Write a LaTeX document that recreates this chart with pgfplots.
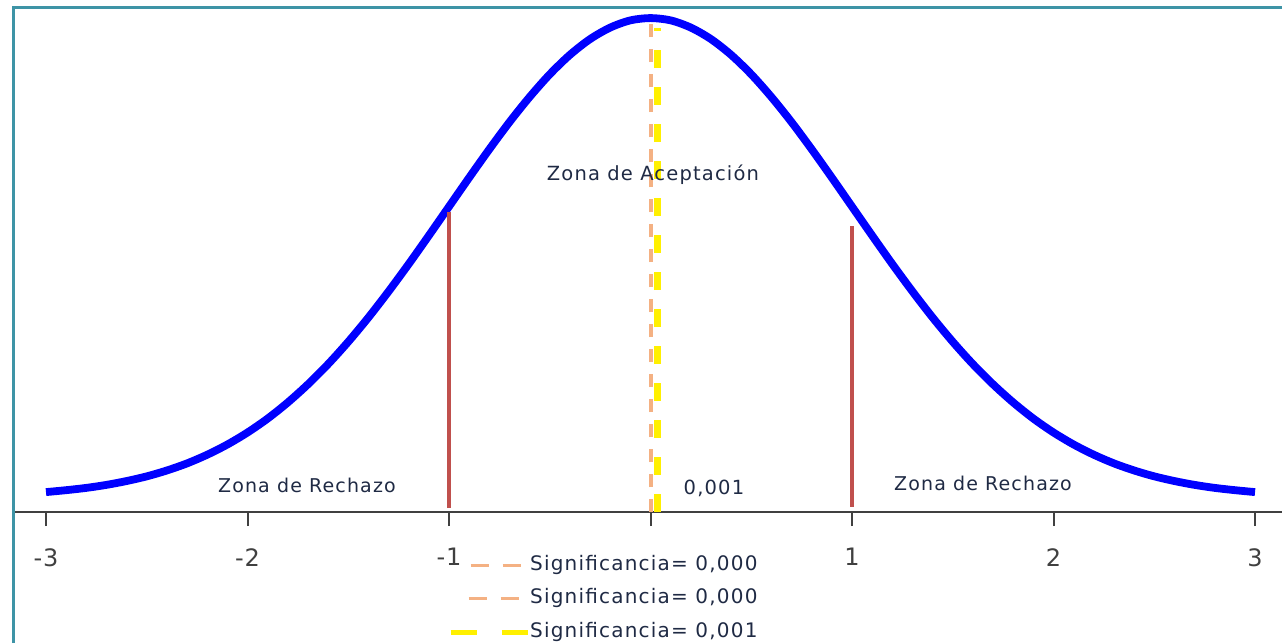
\documentclass[border=0pt]{standalone}
\usepackage{fontspec}
\setmainfont{DejaVu Sans}
\newfontfamily\labfont[LetterSpace=6]{DejaVu Sans}
\newfontfamily\tickfont[LetterSpace=4]{DejaVu Sans}
\usepackage{pgfplots}
\pgfplotsset{compat=1.18}
\definecolor{frameteal}{HTML}{3E94A6}
\definecolor{axisgray}{HTML}{404040}
\definecolor{peach}{HTML}{F4B183}
\definecolor{yell}{HTML}{FFF000}
\definecolor{redline}{HTML}{C0504D}
\definecolor{textdark}{HTML}{1F2A44}
\begin{document}
\begin{tikzpicture}
\begin{axis}[
  scale only axis, width=1269pt, height=635pt,
  xmin=-3.1638, xmax=3.134, ymin=-0.1090, ymax=0.4195,
  axis y line=none, axis x line*=middle,
  hide obscured x ticks=false,
  x axis line style={draw=axisgray, line width=2.4pt},
  xtick={-3,-2,-1,0,1,2,3},
  xticklabel={\mbox{\tickfont\fontsize{20}{20}\selectfont\pgfmathparse{int(round(\tick))}\ifnum\pgfmathresult=0 \else\pgfmathresult\fi}},
  xtick align=outside, major tick length=14pt,
  xtick style={draw=axisgray, line width=2pt, /pgfplots/major tick length=14pt},
  xticklabel style={font=\tickfont\fontsize{20}{20}\selectfont, text=axisgray, scale=1.2, yshift=-15pt},
  ytick=\empty,
  clip=false,
  legend style={draw=none, fill=none, at={(axis cs:-1.02,-0.034)}, anchor=north west,
    font=\labfont\fontsize{20}{20}\selectfont, text=textdark,
    nodes={inner sep=0pt, text height=15pt, text depth=5pt, anchor=west},
    /tikz/every even column/.append style={column sep=4pt},
    row sep=13.5pt},
  legend cell align=left,
]
% legend entries (the vertical lines at x = 0)
\addplot[peach, line width=4pt, dash pattern=on 13pt off 12pt,
  legend image code/.code={\path[draw=none,fill=none] (0pt,-5pt) rectangle (77pt,5pt);
    \draw[peach, line width=3pt, dash pattern=on 18pt off 14pt] (20pt,0pt) -- (72pt,0pt);}]
  coordinates {(0,0) (0,0.413)};
\addlegendentry{Significancia= 0,000}
\addplot[peach, line width=4pt, dash pattern=on 13pt off 12pt,
  legend image code/.code={\path[draw=none,fill=none] (0pt,-5pt) rectangle (77pt,5pt);
    \draw[peach, line width=3pt, dash pattern=on 18pt off 14pt] (18pt,0pt) -- (70pt,0pt);}]
  coordinates {(0,0) (0,0.413)};
\addlegendentry{Significancia= 0,000}
\addplot[yell, line width=7pt, dash pattern=on 18pt off 19pt,
  legend image code/.code={\path[draw=none,fill=none] (0pt,-5pt) rectangle (77pt,5pt);
    \draw[yell, line width=5pt, dash pattern=on 26pt off 25pt] (0pt,0pt) -- (77pt,0pt);}]
  coordinates {(0.033,0) (0.033,0.403)};
\addlegendentry{Significancia= 0,001}
% normal curve
\addplot[blue, line width=7.8pt, smooth, forget plot] coordinates {
(-3.0,0.0166) (-2.9,0.0182) (-2.8,0.0201) (-2.7,0.0226) (-2.6,0.0258)
(-2.5,0.0297) (-2.4,0.0346) (-2.3,0.0405) (-2.2,0.0477) (-2.1,0.0562)
(-2.0,0.0662) (-1.9,0.0778) (-1.8,0.0912) (-1.7,0.1063) (-1.6,0.1231)
(-1.5,0.1417) (-1.4,0.1619) (-1.3,0.1836) (-1.2,0.2064) (-1.1,0.2301)
(-1.0,0.2542) (-0.9,0.2783) (-0.8,0.3019) (-0.7,0.3245) (-0.6,0.3454)
(-0.5,0.3643) (-0.4,0.3805) (-0.3,0.3936) (-0.2,0.4032) (-0.1,0.4092)
(0.0,0.4111)
(0.1,0.4092) (0.2,0.4032) (0.3,0.3936) (0.4,0.3805) (0.5,0.3643)
(0.6,0.3454) (0.7,0.3245) (0.8,0.3019) (0.9,0.2783) (1.0,0.2542)
(1.1,0.2301) (1.2,0.2064) (1.3,0.1836) (1.4,0.1619) (1.5,0.1417)
(1.6,0.1231) (1.7,0.1063) (1.8,0.0912) (1.9,0.0778) (2.0,0.0662)
(2.1,0.0562) (2.2,0.0477) (2.3,0.0405) (2.4,0.0346) (2.5,0.0297)
(2.6,0.0258) (2.7,0.0226) (2.8,0.0201) (2.9,0.0182) (3.0,0.0166)
};
% critical value lines
\addplot[redline, line width=3.5pt, forget plot] coordinates {(-1,0.0033) (-1,0.2497)};
\addplot[redline, line width=3.5pt, forget plot] coordinates {(1,0.0042) (1,0.2380)};
% labels
\node[font=\labfont\fontsize{19}{19}\selectfont, text=textdark] at (axis cs:-1.705,0.0225) {Zona de Rechazo};
\node[font=\labfont\fontsize{19}{19}\selectfont, text=textdark] at (axis cs:1.650,0.0241) {Zona de Rechazo};
\node[font=\labfont\fontsize{19.5}{19.5}\selectfont, text=textdark] at (axis cs:0.012,0.2805) {Zona de Aceptación};
\node[font=\labfont\fontsize{19.5}{19.5}\selectfont, text=textdark] at (axis cs:0.315,0.020) {0,001};
% frame
\draw[frameteal, line width=3pt] (rel axis cs:0,0) -- (rel axis cs:0,1) -- (rel axis cs:1,1);
\coordinate (BL) at (rel axis cs:0,0);
\coordinate (TR) at (rel axis cs:1,1);
\end{axis}
\pgfresetboundingbox
\path[use as bounding box] ([xshift=-13pt]BL) rectangle ([yshift=8pt]TR);
\end{tikzpicture}
\end{document}
